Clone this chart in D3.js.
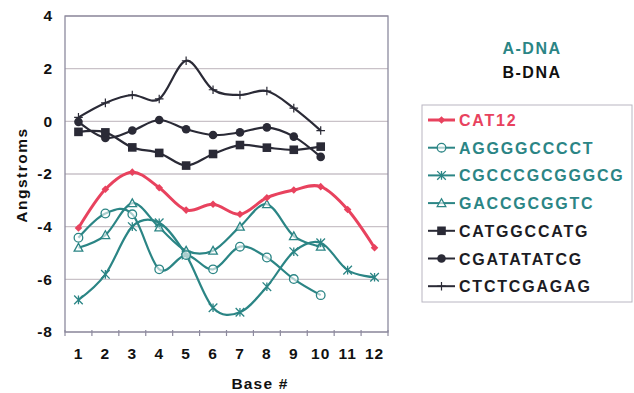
<!DOCTYPE html>
<html><head><meta charset="utf-8">
<script src="https://cdn.jsdelivr.net/npm/d3@7"></script>
<style>
body{margin:0;background:#fff;}
text{font-family:"Liberation Sans",Arial,sans-serif;font-weight:bold;}
</style></head>
<body><svg id="c" width="634" height="393"></svg>
<script>
const bases = ["1","2","3","4","5","6","7","8","9","10","11","12"];
const yTicks = [4,2,0,-2,-4,-6,-8];
const seriesNames = ["CAT12","AGGGGCCCCT","CGCCCGCGGGCG","GACCGCGGTC","CATGGCCATG","CGATATATCG","CTCTCGAGAG"];
const cat12 = [-4.05,-2.58,-1.93,-2.52,-3.37,-3.15,-3.53,-2.9,-2.61,-2.48,-3.35,-4.8];
const agggg = [-4.42,-3.5,-3.53,-5.62,-5.08,-5.62,-4.76,-5.17,-5.99,-6.6];
const cgccc = [-6.78,-5.81,-4.0,-3.85,-5.08,-7.08,-7.25,-6.28,-4.95,-4.61,-5.65,-5.92];
const gaccg = [-4.8,-4.32,-3.11,-4.03,-4.91,-4.91,-4.0,-3.15,-4.36,-4.76];
const catgg = [-0.4,-0.42,-0.99,-1.2,-1.68,-1.24,-0.9,-1.0,-1.08,-0.96];
const cgata = [-0.02,-0.63,-0.35,0.05,-0.3,-0.52,-0.42,-0.23,-0.58,-1.35];
const ctctc = [0.15,0.7,1.0,0.85,2.3,1.2,1.0,1.15,0.5,-0.35];
const groupLabels = ["A-DNA","B-DNA"];

const RED="#e8425e", TEAL="#2b8585", DARK="#2a2a36";
const series = [
  {name:seriesNames[0], vals:cat12, color:RED, marker:"diamond"},
  {name:seriesNames[1], vals:agggg, color:TEAL, marker:"ocircle"},
  {name:seriesNames[2], vals:cgccc, color:TEAL, marker:"star"},
  {name:seriesNames[3], vals:gaccg, color:TEAL, marker:"triangle"},
  {name:seriesNames[4], vals:catgg, color:DARK, marker:"square"},
  {name:seriesNames[5], vals:cgata, color:DARK, marker:"circle"},
  {name:seriesNames[6], vals:ctctc, color:DARK, marker:"plus"}
];

const svg = d3.select("#c");
const L=65,R=388,T=16,B=332;
const x = d3.scaleBand().domain(bases).range([L,R]);
const y = d3.scaleLinear().domain([-8,4]).range([B,T]);

// gridlines
svg.append("g").selectAll("line").data(yTicks).join("line")
  .attr("x1",L).attr("x2",R).attr("y1",d=>y(d)).attr("y2",d=>y(d))
  .attr("stroke","#c9c2c8").attr("stroke-width",1.3);
// border
svg.append("rect").attr("x",L).attr("y",T).attr("width",R-L).attr("height",B-T)
  .attr("fill","none").attr("stroke","#8d8a9e").attr("stroke-width",1.3);

// y axis
const ya = svg.append("g").attr("transform",`translate(${L},0)`)
  .call(d3.axisLeft(y).tickValues(yTicks).tickSize(0).tickPadding(12).tickFormat(d=>String(d)));
ya.select(".domain").remove();
ya.selectAll("text").attr("font-size",15.5).attr("fill","#111").style("letter-spacing","1px")
  .attr("font-family","Liberation Sans, Arial, sans-serif").attr("font-weight","bold");

// x axis
const xa = svg.append("g").attr("transform",`translate(0,${B})`)
  .call(d3.axisBottom(x).tickSize(0).tickPadding(16));
xa.select(".domain").remove();
xa.selectAll("text").attr("font-size",15.5).attr("fill","#111").style("letter-spacing","1px")
  .attr("font-family","Liberation Sans, Arial, sans-serif").attr("font-weight","bold");
// band-edge tick marks
const edges = bases.map(b=>x(b)).concat([R]);
svg.append("g").selectAll("line").data(edges).join("line")
  .attr("x1",d=>d).attr("x2",d=>d).attr("y1",B-2).attr("y2",B+4)
  .attr("stroke","#8d8a9e").attr("stroke-width",1.2);

// axis titles
svg.append("text").attr("transform","translate(27,175) rotate(-90)").attr("text-anchor","middle")
  .attr("font-size",15.5).style("letter-spacing","1.5px").attr("fill","#111").text("Angstroms");
svg.append("text").attr("x",260).attr("y",389).attr("text-anchor","middle")
  .attr("font-size",15.5).style("letter-spacing","1.2px").attr("fill","#111").text("Base #");

// markers
function drawMarker(g, type, color, cx, cy){
  const s=4.3;
  if(type==="diamond"){
    g.append("path").attr("d",`M${cx},${cy-3.8}L${cx+3.8},${cy}L${cx},${cy+3.8}L${cx-3.8},${cy}Z`).attr("fill",color);
  } else if(type==="ocircle"){
    g.append("circle").attr("cx",cx).attr("cy",cy).attr("r",s).attr("fill","#fff").attr("fill-opacity",0.6).attr("stroke",color).attr("stroke-width",1.3);
  } else if(type==="circle"){
    g.append("circle").attr("cx",cx).attr("cy",cy).attr("r",s).attr("fill",color);
  } else if(type==="square"){
    g.append("rect").attr("x",cx-s).attr("y",cy-s).attr("width",2*s).attr("height",2*s).attr("fill",color);
  } else if(type==="triangle"){
    g.append("path").attr("d",`M${cx},${cy-s}L${cx+s},${cy+s*0.8}L${cx-s},${cy+s*0.8}Z`).attr("fill","#fff").attr("fill-opacity",0.6).attr("stroke",color).attr("stroke-width",1.3);
  } else if(type==="star"){
    g.append("path").attr("d",`M${cx-s},${cy-s}L${cx+s},${cy+s}M${cx-s},${cy+s}L${cx+s},${cy-s}M${cx},${cy-s}L${cx},${cy+s}`).attr("stroke",color).attr("stroke-width",1.3);
  } else if(type==="plus"){
    g.append("path").attr("d",`M${cx-s},${cy}L${cx+s},${cy}M${cx},${cy-s}L${cx},${cy+s}`).attr("stroke",color).attr("stroke-width",1.2);
  }
}

const line = d3.line().x((d,i)=>x(bases[i])+x.bandwidth()/2).y(d=>y(d)).curve(d3.curveCatmullRom.alpha(0));
const drawOrder = [6,5,4,3,2,1,0];
drawOrder.forEach(k=>{
  const s = series[k];
  const g = svg.append("g");
  g.append("path").attr("d",line(s.vals)).attr("fill","none").attr("stroke",s.color)
    .attr("stroke-width", k===0?3:2.2);
  s.vals.forEach((v,i)=>drawMarker(g,s.marker,s.color,x(bases[i])+x.bandwidth()/2,y(v)));
});

// group labels
svg.append("text").attr("x",532).attr("y",54).attr("text-anchor","middle").attr("font-size",16)
  .style("letter-spacing","1.5px").attr("fill",TEAL).text(groupLabels[0]);
svg.append("text").attr("x",532).attr("y",78).attr("text-anchor","middle").attr("font-size",16)
  .style("letter-spacing","1.5px").attr("fill","#111").text(groupLabels[1]);

// legend
const lg = svg.append("g");
lg.append("rect").attr("x",422).attr("y",105).attr("width",210).attr("height",197)
  .attr("fill","#fff").attr("stroke","#b9b6c2").attr("stroke-width",1);
series.forEach((s,i)=>{
  const cy = 120 + i*27.7;
  const gg = lg.append("g");
  gg.append("line").attr("x1",428).attr("x2",455).attr("y1",cy).attr("y2",cy)
    .attr("stroke",s.color).attr("stroke-width",i===0?3:2);
  drawMarker(gg,s.marker,s.color,441.5,cy);
  gg.append("text").attr("x",459).attr("y",cy+6).attr("font-size",16).style("letter-spacing","1.8px")
    .attr("fill",s.color===DARK?"#1c1c24":s.color).text(s.name);
});
</script></body></html>
